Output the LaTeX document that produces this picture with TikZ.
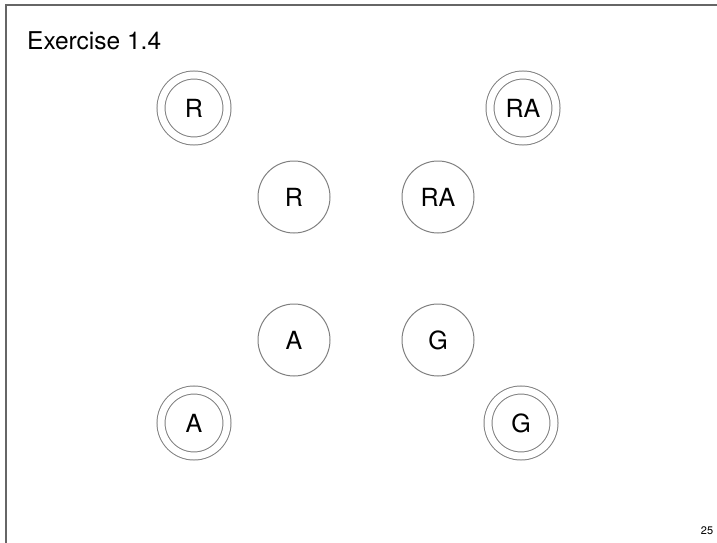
\documentclass[tikz,border=0pt]{standalone}
\usepackage{fontspec}
\setmainfont{TeX Gyre Heros}
\definecolor{ringgray}{gray}{0.5}
\definecolor{framegray}{gray}{0.4}

\begin{document}
\begin{tikzpicture}[x=1pt,y=-1pt,
	state/.style={circle,draw=ringgray,line width=1pt,minimum size=72pt,inner sep=0pt,font=\fontsize{25}{25}\selectfont},
	final/.style={state,minimum size=66pt,double=white,double distance=7pt}]
	\useasboundingbox (0,0) rectangle (717,543);
	\draw[framegray,line width=1.5pt] (6,543) -- (6,5) -- (717,5);
	\node[anchor=base west,inner sep=0pt,font=\fontsize{24.5}{24.5}\selectfont] (title) at (27,50) {Exercise 1.4};
		\node[final] (rOuter) at (194,108) {R};
		\node[final] (raOuter) at (523,108) {RA};
		\node[final] (aOuter) at (194,423) {A};
		\node[final] (gOuter) at (521,423) {G};
			\node[state] (r) at (294,197) {R};
			\node[state] (ra) at (438,197) {RA};
			\node[state] (a) at (294,340) {A};
			\node[state] (g) at (438,340) {G};
	\node[font=\fontsize{11}{11}\selectfont] (page) at (707,531) {25};
\end{tikzpicture}
\end{document}
